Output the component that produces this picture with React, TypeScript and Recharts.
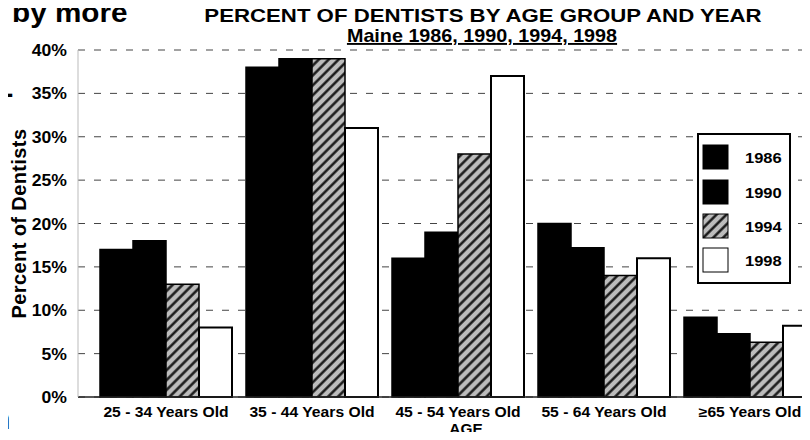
import React from "react";
import { Bar, BarChart, CartesianGrid, Legend, XAxis, YAxis } from "recharts";

const categories = [
  "25 - 34 Years Old",
  "35 - 44 Years Old",
  "45 - 54 Years Old",
  "55 - 64 Years Old",
  "≥65 Years Old",
];
const years = ["1986", "1990", "1994", "1998"];
const pct1986 = [17, 38, 16, 20, 9.2];
const pct1990 = [18, 39, 19, 17.2, 7.3];
const pct1994 = [13, 39, 28, 14, 6.3];
const pct1998 = [8, 31, 37, 16, 8.2];
const yTicks = [0, 5, 10, 15, 20, 25, 30, 35, 40];

const data = categories.map((age, i) => ({
  age,
  "1986": pct1986[i],
  "1990": pct1990[i],
  "1994": pct1994[i],
  "1998": pct1998[i],
}));

const FONT = "'Liberation Sans', Arial, sans-serif";

const fills: Record<string, string> = {
  "1986": "#000",
  "1990": "#000",
  "1994": "url(#hatch)",
  "1998": "#fff",
};

function Hatch({ id }: { id: string }) {
  return (
    <pattern id={id} patternUnits="userSpaceOnUse" width={7} height={7} patternTransform="rotate(45)">
      <rect width={7} height={7} fill="#bcbcbc" />
      <line x1={1.5} y1={0} x2={1.5} y2={7} stroke="#111" strokeWidth={2.4} />
    </pattern>
  );
}

function XTick(props: any) {
  const { x, y, payload } = props;
  return (
    <text
      transform={`translate(${x},${y + 12}) scale(1.12,1)`}
      textAnchor="middle"
      fontFamily={FONT}
      fontWeight="bold"
      fontSize={14}
      fill="#000"
    >
      {payload.value}
    </text>
  );
}

function YTick(props: any) {
  const { x, y, payload } = props;
  return (
    <text
      transform={`translate(${x},${y + 6}) scale(1.1,1)`}
      textAnchor="end"
      fontFamily={FONT}
      fontWeight="bold"
      fontSize={16}
      fill="#000"
    >
      {payload.value}%
    </text>
  );
}

function LegendBox() {
  return (
    <svg width={95} height={152} style={{ display: "block" }}>
      <defs>
        <Hatch id="hatchLegend" />
      </defs>
      <rect x={1} y={1} width={92} height={149} fill="#fff" stroke="#000" strokeWidth={2} />
      {years.map((yr, i) => {
        const top = [12, 47, 81, 115][i];
        const fill = yr === "1994" ? "url(#hatchLegend)" : fills[yr];
        return (
          <g key={yr}>
            <rect x={6} y={top} width={25} height={24} fill={fill} stroke="#000" strokeWidth={1} />
            <text
              transform={`translate(48,${top + 18}) scale(1.1,1)`}
              fontFamily={FONT}
              fontWeight="bold"
              fontSize={15}
              fill="#000"
            >
              {yr}
            </text>
          </g>
        );
      })}
    </svg>
  );
}

export default function App() {
  return (
    <div
      style={{
        position: "relative",
        width: 810,
        height: 440,
        overflow: "hidden",
        margin: -8,
        background: "#fff",
      }}
    >
      <BarChart
        width={830}
        height={440}
        data={data}
        margin={{ top: 50, right: 7, left: 0, bottom: 18 }}
        barCategoryGap={7}
        barGap={0}
      >
        <defs>
          <Hatch id="hatch" />
        </defs>
        <CartesianGrid vertical={false} strokeDasharray="7 9" stroke="#444" />
        <XAxis
          dataKey="age"
          height={25}
          padding={{ left: 15, right: 0 }}
          axisLine={{ stroke: "#222", strokeWidth: 1.5 }}
          tickLine={false}
          interval={0}
          tick={<XTick />}
        />
        <YAxis
          width={78}
          domain={[0, 40]}
          ticks={yTicks}
          axisLine={{ stroke: "#bbb" }}
          tickLine={false}
          tickMargin={5}
          tick={<YTick />}
          label={{
            value: "Percent of Dentists",
            angle: -90,
            position: "insideLeft",
            offset: 19,
            style: {
              textAnchor: "middle",
              fontFamily: FONT,
              fontWeight: "bold",
              fontSize: 20,
              fill: "#000",
              letterSpacing: 0.4,
            },
          }}
        />
        <Legend
          layout="vertical"
          align="center"
          verticalAlign="middle"
          content={() => <LegendBox />}
          wrapperStyle={{ position: "absolute", left: 697, top: 133, width: 95, height: 152 }}
        />
        {years.map((yr) => (
          <Bar
            key={yr}
            dataKey={yr}
            name={yr}
            fill={fills[yr]}
            stroke="#000"
            strokeWidth={yr === "1998" ? 2 : 1.5}
            isAnimationActive={false}
          />
        ))}
      </BarChart>
      <svg
        width={810}
        height={440}
        style={{ position: "absolute", left: 0, top: 0, pointerEvents: "none" }}
      >
        <g fontFamily={FONT} fontWeight="bold" fill="#000">
          <text transform="translate(12,22) scale(1.1,1)" fontSize={27}>by more</text>
          <text transform="translate(-13,103) scale(1.1,1)" fontSize={27}>e-</text>
          <text transform="translate(-9,429) scale(1.1,1)" fontSize={29}>n</text>
          <text transform="translate(483,22) scale(1.17,1)" textAnchor="middle" fontSize={19}>
            PERCENT OF DENTISTS BY AGE GROUP AND YEAR
          </text>
          <text
            transform="translate(482,42) scale(1.04,1)"
            textAnchor="middle"
            fontSize={19}
            style={{ textDecoration: "underline" }}
          >
            Maine 1986, 1990, 1994, 1998
          </text>
          <text transform="translate(466,434) scale(1.1,1)" textAnchor="middle" fontSize={14}>
            AGE
          </text>
        </g>
      </svg>
    </div>
  );
}
